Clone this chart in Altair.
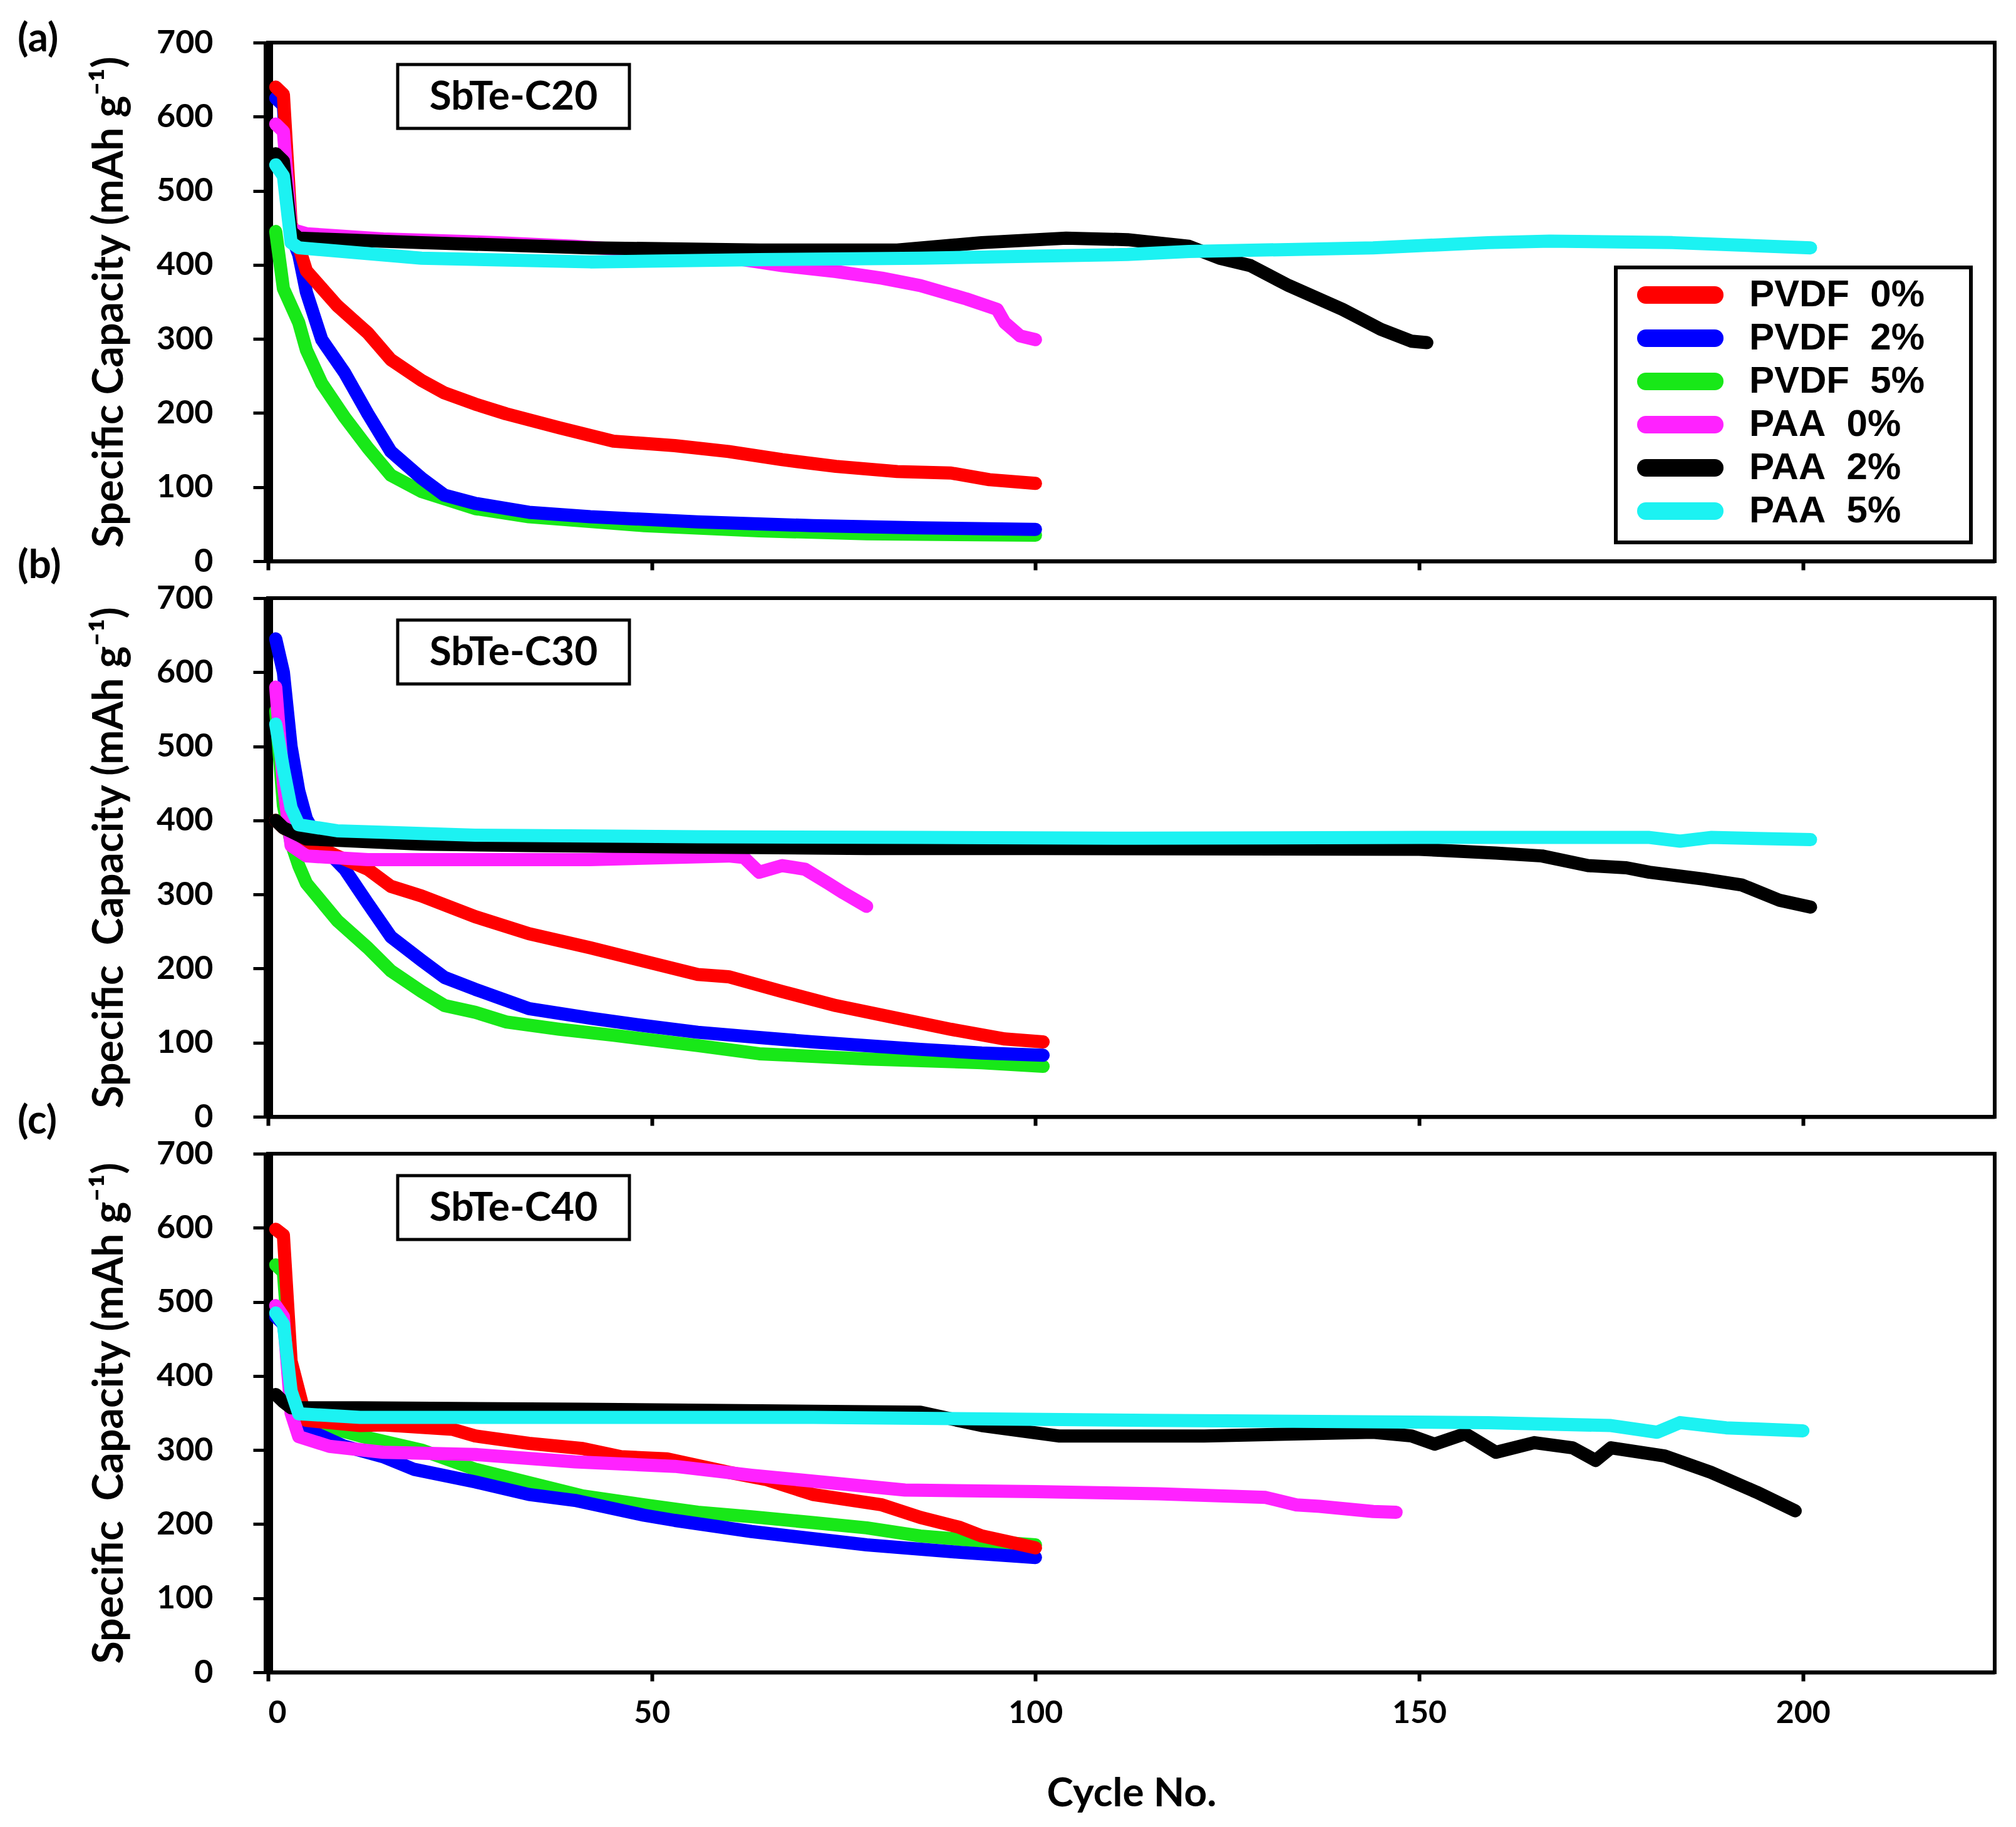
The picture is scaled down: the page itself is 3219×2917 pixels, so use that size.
import altair as alt
import pandas as pd

# legend / colour order
SERIES = ["PVDF 0%", "PVDF 2%", "PVDF 5%", "PAA 0%", "PAA 2%", "PAA 5%"]
COLORS = ["#FF0000", "#0000FF", "#18E818", "#FF22FF", "#000000", "#1CF2F2"]
# bottom -> top drawing order of the curves
DRAW_ORDER = ["PVDF 5%", "PVDF 2%", "PVDF 0%", "PAA 0%", "PAA 2%", "PAA 5%"]

Y_TICKS = [0, 100, 200, 300, 400, 500, 600, 700]
X_TICKS = [0, 50, 100, 150, 200]
PANEL_TAGS = ["(a)", "(b)", "(c)"]
SAMPLES = ["SbTe-C20", "SbTe-C30", "SbTe-C40"]

# ---- SbTe-C20 ----
c20_pvdf0_cyc = [1, 2, 3, 4, 5, 9, 13, 16, 20, 23, 27, 31, 38, 45, 53, 60, 67, 74, 82, 89, 94, 100]
c20_pvdf0_cap = [640, 630, 455, 425, 392, 345, 308, 272, 244, 227, 212, 199, 180, 162, 156, 148, 137, 128, 121, 119, 110, 105]
c20_pvdf2_cyc = [1, 2, 3, 4, 5, 7, 10, 13, 16, 20, 23, 27, 34, 42, 56, 71, 85, 100]
c20_pvdf2_cap = [625, 615, 440, 414, 363, 299, 254, 199, 148, 112, 89, 78, 66, 60, 53, 48, 45, 43]
c20_pvdf5_cyc = [1, 2, 4, 5, 7, 10, 13, 16, 20, 27, 34, 49, 64, 78, 100]
c20_pvdf5_cap = [445, 368, 322, 285, 240, 194, 153, 116, 94, 71, 60, 48, 41, 37, 35]
c20_paa0_cyc = [1, 2, 3, 5, 15, 30, 40, 50, 60, 67, 74, 80, 85, 91, 95, 96, 98, 100]
c20_paa0_cap = [590, 580, 448, 442, 435, 430, 425, 418, 410, 399, 391, 382, 372, 354, 340, 322, 304, 299]
c20_paa2_cyc = [1, 2, 3, 4, 20, 42, 64, 82, 93, 104, 112, 120, 124, 128, 133, 140, 145, 149, 151]
c20_paa2_cap = [550, 540, 445, 436, 430, 423, 420, 420, 430, 436, 434, 425, 409, 399, 372, 340, 313, 297, 295]
c20_paa5_cyc = [1, 2, 3, 4, 20, 42, 64, 85, 112, 120, 144, 159, 167, 183, 201]
c20_paa5_cap = [535, 520, 430, 423, 409, 404, 407, 409, 414, 418, 423, 430, 432, 430, 423]

# ---- SbTe-C30 ----
c30_pvdf0_cyc = [1, 2, 5, 9, 13, 16, 20, 27, 34, 42, 49, 56, 60, 67, 74, 82, 89, 96, 101]
c30_pvdf0_cap = [400, 390, 372, 352, 334, 311, 298, 270, 247, 228, 210, 192, 189, 169, 150, 133, 118, 105, 101]
c30_pvdf2_cyc = [1, 2, 3, 4, 5, 7, 10, 13, 16, 20, 23, 27, 34, 42, 49, 56, 64, 71, 78, 85, 93, 101]
c30_pvdf2_cap = [645, 600, 500, 440, 402, 366, 334, 288, 243, 211, 188, 172, 146, 133, 123, 114, 107, 101, 96, 91, 86, 83]
c30_pvdf5_cyc = [1, 2, 3, 4, 5, 9, 13, 16, 20, 23, 27, 31, 38, 45, 56, 64, 78, 93, 101]
c30_pvdf5_cap = [548, 420, 370, 339, 315, 265, 228, 197, 169, 150, 141, 128, 118, 110, 96, 85, 78, 73, 68]
c30_paa0_cyc = [1, 2, 3, 5, 13, 27, 42, 60, 62, 64, 67, 70, 73, 75, 78]
c30_paa0_cap = [580, 450, 366, 352, 347, 347, 347, 352, 350, 330, 339, 334, 315, 302, 284]
c30_paa2_cyc = [1, 2, 3, 5, 20, 34, 56, 78, 100, 150, 160, 166, 172, 177, 180, 187, 192, 197, 201]
c30_paa2_cap = [400, 390, 385, 375, 368, 366, 364, 362, 362, 361, 356, 352, 339, 336, 330, 321, 313, 292, 283]
c30_paa5_cyc = [1, 2, 3, 4, 9, 27, 56, 85, 113, 150, 180, 184, 188, 201]
c30_paa5_cap = [530, 470, 417, 394, 386, 380, 378, 377, 376, 377, 377, 372, 377, 374]

# ---- SbTe-C40 ----
c40_pvdf0_cyc = [1, 2, 3, 5, 12, 15, 24, 27, 34, 41, 46, 52, 60, 65, 71, 80, 85, 90, 93, 97, 100]
c40_pvdf0_cap = [598, 590, 420, 340, 333, 334, 328, 319, 309, 302, 291, 288, 270, 260, 240, 226, 209, 196, 184, 175, 168]
c40_pvdf2_cyc = [1, 2, 3, 5, 10, 15, 19, 27, 34, 40, 49, 53, 63, 78, 90, 100]
c40_pvdf2_cap = [480, 470, 400, 328, 305, 291, 274, 257, 240, 232, 212, 205, 190, 172, 162, 155]
c40_pvdf5_cyc = [1, 2, 3, 4, 12, 20, 27, 34, 41, 49, 56, 63, 71, 78, 85, 92, 100]
c40_pvdf5_cap = [550, 540, 400, 342, 319, 300, 274, 256, 238, 226, 216, 210, 202, 195, 184, 178, 172]
c40_paa0_cyc = [1, 2, 3, 4, 8, 15, 27, 40, 53, 63, 83, 100, 116, 130, 134, 137, 144, 147]
c40_paa0_cap = [495, 480, 350, 318, 305, 297, 294, 284, 278, 266, 246, 244, 241, 236, 226, 224, 217, 216]
c40_paa2_cyc = [1, 2, 3, 12, 41, 85, 93, 103, 122, 144, 149, 152, 156, 160, 165, 170, 173, 175, 182, 188, 194, 199]
c40_paa2_cap = [375, 365, 357, 357, 355, 351, 333, 319, 319, 324, 319, 308, 322, 297, 310, 303, 286, 303, 292, 270, 243, 218]
c40_paa5_cyc = [1, 2, 3, 4, 12, 71, 115, 159, 175, 181, 184, 190, 200]
c40_paa5_cap = [485, 470, 380, 349, 344, 344, 340, 337, 333, 324, 337, 330, 326]

PANEL_W = 2757
PANEL_H = 828
FONT = "Lato"


def panel_frame(curves):
    # one long table per panel, rows ordered so the curves stack like the original
    parts = [pd.DataFrame({"series": s, "cycle": c, "capacity": v}) for s, c, v in curves]
    df = pd.concat(parts, ignore_index=True)
    df["rank"] = df["series"].map(DRAW_ORDER.index)
    return df.sort_values(["rank", "cycle"], kind="stable")


def one_row():
    return pd.DataFrame({"k": [0]})


color_scale = alt.Scale(domain=SERIES, range=COLORS)


def make_panel(df, tag, sample, y_title, tag_y, bottom, with_legend):
    if bottom:
        x_axis = alt.Axis(values=X_TICKS, format="d", tickSize=14, tickWidth=6, domainWidth=6,
                          labelFontSize=50, labelPadding=26, title="Cycle No.",
                          titleFontSize=64, titlePadding=72)
    else:
        x_axis = alt.Axis(values=X_TICKS, tickSize=14, tickWidth=6, domainWidth=6, labels=False)

    lines = alt.Chart(df).mark_line(strokeWidth=21, strokeCap="round", strokeJoin="round").encode(
        x=alt.X("cycle:Q", scale=alt.Scale(domain=[0, 225], nice=False, zero=False), axis=x_axis,
                title="Cycle No." if bottom else None),
        y=alt.Y("capacity:Q", scale=alt.Scale(domain=[0, 700], nice=False),
                axis=alt.Axis(values=Y_TICKS, tickSize=24, tickWidth=5, domainWidth=15,
                              labelFontSize=52, labelPadding=64, titleFontSize=66, titlePadding=40),
                title=y_title),
        color=alt.Color("series:N", scale=color_scale, legend=None),
    )

    box = alt.Chart(one_row()).mark_rect(fill="white", stroke="black", strokeWidth=5).encode(
        x=alt.value(207), x2=alt.value(577), y=alt.value(35), y2=alt.value(137)
    )
    box_text = alt.Chart(one_row()).mark_text(
        font=FONT, fontWeight="bold", fontSize=64, color="black", baseline="middle", align="center"
    ).encode(x=alt.value(392), y=alt.value(88), text=alt.value(sample))

    tag_text = alt.Chart(one_row()).mark_text(
        font=FONT, fontWeight="bold", fontSize=64, color="black", baseline="middle", align="left"
    ).encode(x=alt.value(-400), y=alt.value(tag_y), text=alt.value(tag))

    layers = [lines, box, box_text, tag_text]

    if with_legend:
        leg = pd.DataFrame({
            "series": SERIES,
            "label": [s.replace(" ", "\u00a0 ") for s in SERIES],
            "ly": [403 + 69 * i for i in range(len(SERIES))],
        })
        leg_box = alt.Chart(one_row()).mark_rect(fill="white", stroke="black", strokeWidth=6).encode(
            x=alt.value(2152), x2=alt.value(2719), y=alt.value(359), y2=alt.value(798)
        )
        swatch = alt.Chart(leg).mark_rule(strokeWidth=28, strokeCap="round").encode(
            x=alt.value(2200), x2=alt.value(2310),
            y=alt.Y("ly:Q", scale=None),
            color=alt.Color("series:N", scale=color_scale, legend=None),
        )
        leg_text = alt.Chart(leg).mark_text(
            font="Liberation Sans", fontWeight="bold", fontSize=60, color="black",
            align="left", baseline="middle"
        ).encode(x=alt.value(2365), y=alt.Y("ly:Q", scale=None), text="label:N")
        layers += [leg_box, swatch, leg_text]

    return alt.layer(*layers).properties(width=PANEL_W, height=PANEL_H)


df_a = panel_frame([
    ("PVDF 0%", c20_pvdf0_cyc, c20_pvdf0_cap), ("PVDF 2%", c20_pvdf2_cyc, c20_pvdf2_cap),
    ("PVDF 5%", c20_pvdf5_cyc, c20_pvdf5_cap), ("PAA 0%", c20_paa0_cyc, c20_paa0_cap),
    ("PAA 2%", c20_paa2_cyc, c20_paa2_cap), ("PAA 5%", c20_paa5_cyc, c20_paa5_cap),
])
df_b = panel_frame([
    ("PVDF 0%", c30_pvdf0_cyc, c30_pvdf0_cap), ("PVDF 2%", c30_pvdf2_cyc, c30_pvdf2_cap),
    ("PVDF 5%", c30_pvdf5_cyc, c30_pvdf5_cap), ("PAA 0%", c30_paa0_cyc, c30_paa0_cap),
    ("PAA 2%", c30_paa2_cyc, c30_paa2_cap), ("PAA 5%", c30_paa5_cyc, c30_paa5_cap),
])
df_c = panel_frame([
    ("PVDF 0%", c40_pvdf0_cyc, c40_pvdf0_cap), ("PVDF 2%", c40_pvdf2_cyc, c40_pvdf2_cap),
    ("PVDF 5%", c40_pvdf5_cyc, c40_pvdf5_cap), ("PAA 0%", c40_paa0_cyc, c40_paa0_cap),
    ("PAA 2%", c40_paa2_cyc, c40_paa2_cap), ("PAA 5%", c40_paa5_cyc, c40_paa5_cap),
])

title_a = "Specific Capacity (mAh g\u207b\u00b9)"
title_bc = "Specific\u00a0 Capacity (mAh g\u207b\u00b9)"

pa = make_panel(df_a, PANEL_TAGS[0], SAMPLES[0], title_a, -5, False, True)
pb = make_panel(df_b, PANEL_TAGS[1], SAMPLES[1], title_bc, -51, False, False)
pc = make_panel(df_c, PANEL_TAGS[2], SAMPLES[2], title_bc, -51, True, False)

chart = alt.vconcat(pa, pb, pc, spacing=59, bounds="flush").properties(
    padding={"left": 17, "top": 20, "right": 10, "bottom": 10}
).configure_view(
    stroke="black", strokeWidth=6
).configure_axis(
    labelFont=FONT, labelFontWeight="bold", labelColor="black",
    titleFont=FONT, titleFontWeight="bold", titleColor="black",
    tickColor="black", domainColor="black", grid=False
)

chart.save("out.html", embed_options={"renderer": "svg", "actions": False})
